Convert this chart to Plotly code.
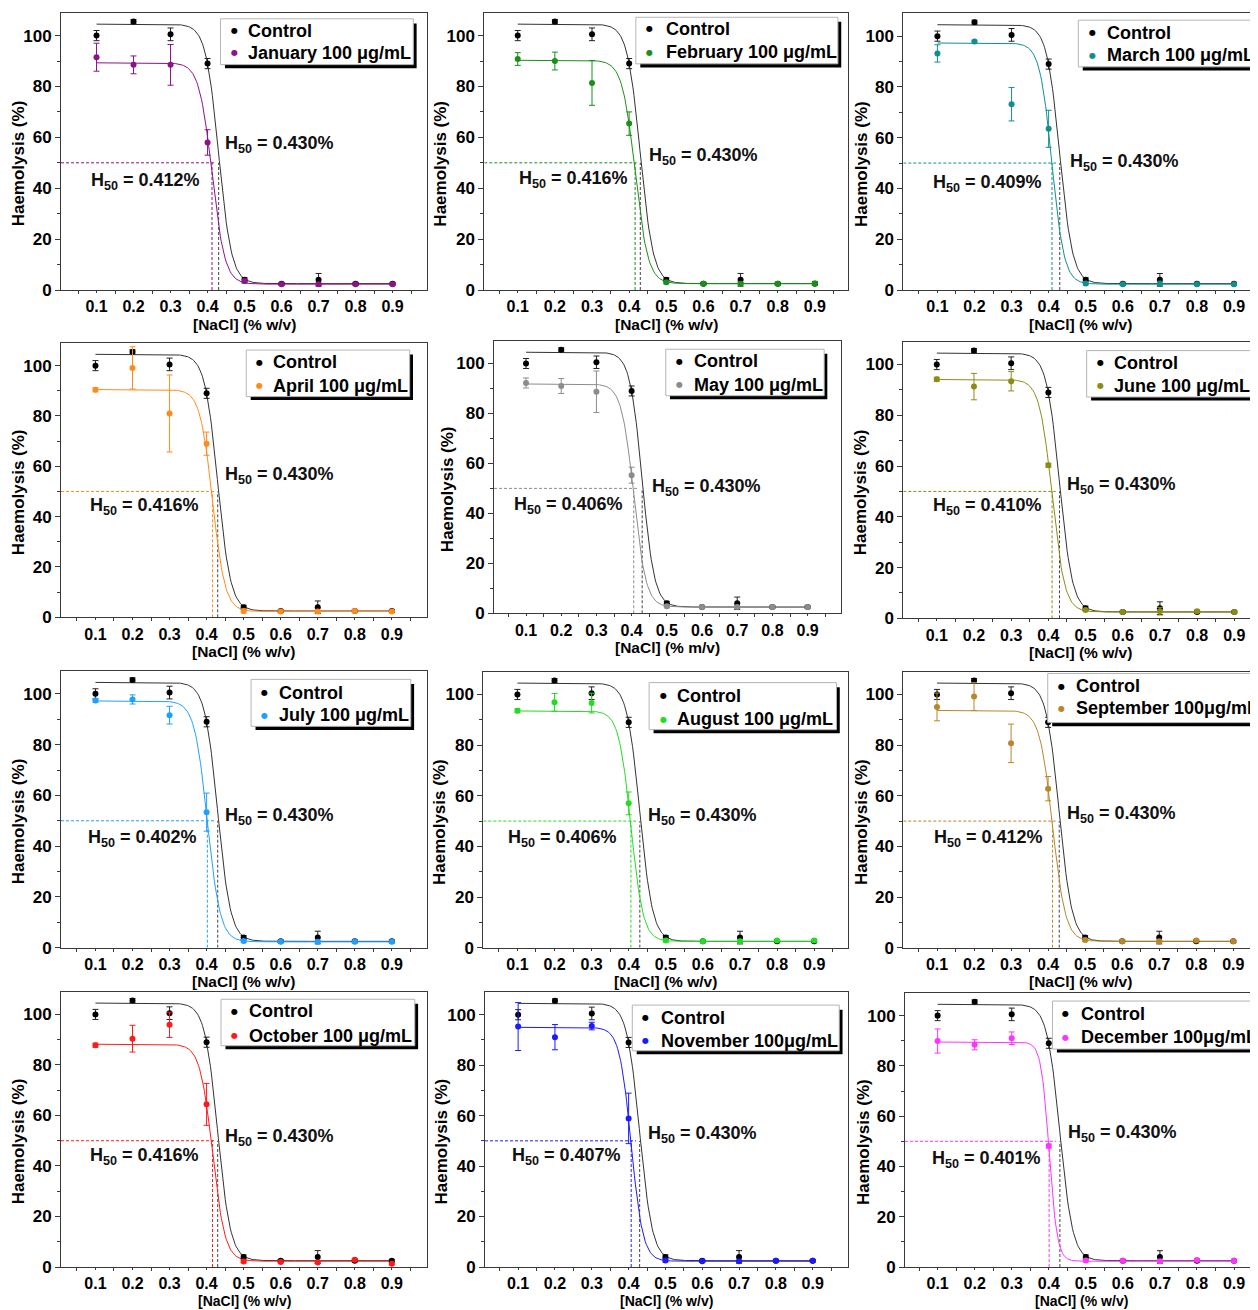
import numpy as np
import plotly.graph_objects as go
from plotly.subplots import make_subplots

# ---------------- data ----------------
nacl = [0.1, 0.2, 0.3, 0.4, 0.5, 0.6, 0.7, 0.8, 0.9]
tick_vals = [0.1, 0.2, 0.3, 0.4, 0.5, 0.6, 0.7, 0.8, 0.9]

control_y = [100.0, 105.5, 100.5, 89.0, 4.0, 2.5, 4.0, 2.5, 2.5]
control_err = [2.0, 0.8, 2.5, 2.0, 0.8, 0.5, 2.5, 0.5, 0.5]
control_top, control_bottom, control_h50, control_slope = 104.5, 2.5, 0.430, 0.0175

months = ["January", "February", "March", "April", "May", "June",
          "July", "August", "September", "October", "November", "December"]
month_labels = ["January 100 μg/mL", "February 100 μg/mL", "March 100 μg/mL",
                "April 100 μg/mL", "May 100 μg/mL", "June 100 μg/mL",
                "July 100 μg/mL", "August 100 μg/mL", "September 100μg/mL",
                "October 100 μg/mL", "November 100μg/mL", "December 100μg/mL"]
month_colors = ["#8b138b", "#1a8f1a", "#0f8f8f", "#ff8c1a", "#8c8c8c", "#8c8c14",
                "#1fa0ff", "#22dd22", "#b8862b", "#ff1a1a", "#1a1aff", "#ff33ff"]

jan_y = [91.5, 88.5, 88.5, 58.0, 3.5, 2.3, 2.3, 2.3, 2.3]
jan_err = [5.5, 3.5, 8.0, 5.0, 0.8, 0.5, 0.5, 0.5, 0.5]
feb_y = [90.8, 90.0, 81.4, 65.4, 3.0, 2.5, 2.5, 2.5, 2.6]
feb_err = [2.5, 3.5, 8.8, 4.6, 0.6, 0.5, 0.5, 0.5, 0.8]
mar_y = [93.2, 97.9, 73.2, 63.5, 2.6, 2.3, 2.6, 2.3, 2.3]
mar_err = [3.4, 0.5, 6.6, 7.3, 0.6, 0.4, 0.8, 0.4, 0.4]
apr_y = [90.4, 99.1, 81.0, 69.0, 2.5, 2.3, 2.3, 2.5, 2.3]
apr_err = [0.8, 8.4, 15.3, 4.6, 0.8, 0.5, 0.5, 0.5, 0.5]
may_y = [92.2, 91.0, 88.7, 55.3, 2.8, 2.5, 2.5, 2.5, 2.5]
may_err = [2.0, 3.0, 8.3, 3.2, 0.6, 0.4, 0.6, 0.4, 0.4]
jun_y = [94.2, 91.3, 93.4, 60.3, 3.3, 2.5, 2.8, 2.8, 2.5]
jun_err = [0.8, 5.2, 3.8, 0.8, 0.5, 0.4, 1.5, 0.5, 0.4]
jul_y = [97.4, 97.8, 91.6, 53.4, 2.6, 2.3, 2.3, 2.3, 2.3]
jul_err = [0.8, 1.8, 3.5, 7.5, 0.6, 0.4, 0.4, 0.4, 0.4]
aug_y = [93.6, 96.9, 96.6, 57.0, 2.8, 2.5, 2.5, 2.8, 2.8]
aug_err = [0.8, 3.5, 3.9, 4.5, 0.6, 0.4, 0.4, 0.5, 0.5]
sep_y = [95.1, 99.2, 80.7, 62.8, 3.0, 2.5, 2.5, 2.8, 2.5]
sep_err = [5.5, 5.5, 7.6, 4.8, 0.6, 0.4, 0.4, 0.5, 0.4]
oct_y = [87.8, 90.4, 95.9, 64.4, 2.2, 2.0, 1.8, 2.9, 1.3]
oct_err = [0.8, 5.3, 5.0, 8.3, 0.5, 0.4, 0.4, 0.5, 0.4]
nov_y = [95.3, 91.1, 95.5, 58.9, 2.6, 2.3, 2.3, 2.5, 2.5]
nov_err = [9.5, 5.0, 1.5, 10.0, 0.6, 0.4, 0.4, 0.4, 0.4]
dec_y = [89.9, 88.4, 91.0, 48.1, 2.6, 2.5, 2.3, 2.8, 2.5]
dec_err = [4.8, 2.0, 2.5, 0.8, 0.5, 0.4, 0.4, 0.5, 0.4]

month_ys = [jan_y, feb_y, mar_y, apr_y, may_y, jun_y, jul_y, aug_y, sep_y, oct_y, nov_y, dec_y]
month_errs = [jan_err, feb_err, mar_err, apr_err, may_err, jun_err,
              jul_err, aug_err, sep_err, oct_err, nov_err, dec_err]

# Boltzmann fit parameters (top, bottom, H50, slope)
fit_tops = [89.3, 90.3, 97.3, 90.5, 91.8, 94.1, 97.2, 93.5, 93.7, 88.2, 95.0, 89.5]
fit_bottoms = [2.3, 2.5, 2.3, 2.3, 2.5, 2.5, 2.3, 2.5, 2.5, 2.3, 2.3, 2.3]
h50s = [0.412, 0.416, 0.409, 0.416, 0.406, 0.410, 0.402, 0.406, 0.412, 0.416, 0.407, 0.401]
fit_slopes = [0.0175, 0.0175, 0.0165, 0.0170, 0.0175, 0.0170,
              0.0175, 0.0165, 0.0175, 0.0170, 0.0160, 0.0110]

x_titles = ["[NaCl] (% w/v)"] * 12
x_titles[4] = "[NaCl] (% m/v)"
y_title = "Haemolysis (%)"

# ---------------- layout constants (pixels / positions) ----------------
PAGE_OFF = 8                     # default body margin of the html page
W, H = 1258 - PAGE_OFF, 1310 - PAGE_OFF
panel_px = [  # left, right, top, bottom  (window pixels)
    (61, 427, 12.7, 290), (484.3, 848.3, 12.7, 290), (903.3, 1257, 13.3, 290),
    (61, 426.7, 343, 617.3), (494, 840.7, 341, 613.3), (903.3, 1257, 341.7, 618.3),
    (61, 426.7, 671, 947.7), (483.3, 848.3, 671.7, 947.7), (903.3, 1257, 671.7, 947.7),
    (61, 427, 991.7, 1267), (485, 847.7, 992, 1267), (905, 1257, 993, 1267),
]
x_ranges = [
    (0.004, 0.993), (0.010, 0.990), (0.008, 0.962),
    (0.007, 0.994), (0.009, 0.994), (0.010, 0.961),
    (0.007, 0.994), (0.008, 0.992), (0.009, 0.964),
    (0.007, 0.995), (0.010, 0.995), (0.012, 0.962),
]
y_range = (0, 109)
y_title_shift = [-43, -44, -42, -43, -47, -43, -43, -44, -42, -43, -44, -42]
x_title_shift = [-34] * 12
x_title_size = [15.5] * 9 + [14, 14, 14]
# H50 label positions: control label (left x, y), month label (right x, y)
ctrl_lab = [(0.443, 57.0), (0.447, 52.4), (0.452, 50.4), (0.443, 56.4), (0.451, 50.5), (0.445, 52.4),
            (0.443, 51.7), (0.447, 52.0), (0.445, 52.6), (0.443, 51.2), (0.447, 52.4), (0.447, 53.0)]
month_lab = [(0.385, 42.5), (0.403, 43.3), (0.388, 42.0), (0.386, 43.9), (0.380, 43.2), (0.389, 43.9),
             (0.379, 43.2), (0.375, 43.3), (0.392, 43.2), (0.386, 43.6), (0.385, 43.8), (0.385, 42.7)]
# legend box: x0, x1, y_bottom, y_top, bullet x, text x, row1 y, row2 y
legend_box = [
    (0.435, 0.956, 88.6, 106.6, 0.474, 0.505, 102.0, 93.2),
    (0.418, 0.962, 88.9, 107.2, 0.456, 0.495, 102.6, 93.5),
    (0.480, 0.958, 87.9, 106.3, 0.518, 0.552, 101.3, 92.5),
    (0.507, 0.948, 87.7, 106.2, 0.543, 0.575, 101.3, 92.0),
    (0.497, 0.947, 87.1, 105.7, 0.536, 0.571, 100.8, 91.5),
    (0.503, 0.951, 87.2, 105.5, 0.539, 0.572, 100.7, 91.7),
    (0.520, 0.951, 87.2, 105.7, 0.556, 0.589, 100.4, 91.6),
    (0.455, 0.960, 86.1, 104.7, 0.493, 0.526, 99.5, 90.3),
    (0.399, 1.050, 88.9, 108.3, 0.437, 0.471, 103.3, 94.5),
    (0.439, 0.962, 87.6, 106.0, 0.475, 0.509, 101.2, 91.6),
    (0.410, 0.972, 85.7, 103.8, 0.446, 0.482, 98.8, 89.7),
    (0.410, 1.050, 86.7, 105.8, 0.444, 0.481, 100.8, 91.3),
]

FONT = "Liberation Sans, Arial, sans-serif"
AX = "#3a3a3a"
DASH = "3px,2px"

fig = make_subplots(rows=4, cols=3)

x_fit = np.linspace(0.1, 0.9, 300)


def boltzmann(x, top, bottom, x0, dx):
    return bottom + (top - bottom) / (1.0 + np.exp((x - x0) / dx))


ctrl_fit = boltzmann(x_fit, control_top, control_bottom, control_h50, control_slope)

shapes = []
annotations = []

for i in range(12):
    r, c = i // 3 + 1, i % 3 + 1
    col = month_colors[i]
    m_fit = boltzmann(x_fit, fit_tops[i], fit_bottoms[i], h50s[i], fit_slopes[i])

    fig.add_trace(go.Scatter(x=x_fit, y=ctrl_fit, mode="lines",
                             line=dict(color="#333333", width=1), showlegend=False,
                             hoverinfo="skip"), row=r, col=c)
    fig.add_trace(go.Scatter(x=x_fit, y=m_fit, mode="lines",
                             line=dict(color=col, width=1), showlegend=False,
                             hoverinfo="skip"), row=r, col=c)
    fig.add_trace(go.Scatter(x=nacl, y=control_y, mode="markers", name="Control",
                             marker=dict(color="black", size=6),
                             error_y=dict(type="data", array=control_err, color="#222",
                                          thickness=1, width=3),
                             showlegend=False), row=r, col=c)
    fig.add_trace(go.Scatter(x=nacl, y=month_ys[i], mode="markers", name=month_labels[i],
                             marker=dict(color=col, size=6),
                             error_y=dict(type="data", array=month_errs[i], color=col,
                                          thickness=1, width=3),
                             showlegend=False), row=r, col=c)

    ax = "" if i == 0 else str(i + 1)
    xr, yr = "x" + ax, "y" + ax
    L, R, T, B = [v - PAGE_OFF for v in panel_px[i]]

    fig.update_layout(**{
        "xaxis" + ax: dict(
            domain=[max(L, 0) / W, min(R, W) / W], range=list(x_ranges[i]), automargin=False,
            tickvals=tick_vals, ticktext=[f"{v:.1f}" for v in tick_vals],
            ticks="outside", ticklen=2, tickwidth=1, tickcolor=AX,
            minor=dict(ticks="outside", ticklen=3, tickcolor=AX, tick0=0.05, dtick=0.1),
            showline=True, linecolor=AX, linewidth=1, mirror=True,
            showgrid=False, zeroline=False,
            tickfont=dict(family=FONT, size=16, color="black", weight="bold"),
        ),
        "yaxis" + ax: dict(
            domain=[1 - B / H, 1 - T / H], range=list(y_range), automargin=False,
            tick0=0, dtick=20,
            ticks="outside", ticklen=5, tickwidth=1, tickcolor=AX,
            minor=dict(ticks="outside", ticklen=3, tickcolor=AX, tick0=10, dtick=20),
            showline=True, linecolor=AX, linewidth=1, mirror=True,
            showgrid=False, zeroline=False,
            tickfont=dict(family=FONT, size=17, color="black", weight="bold"),
        ),
    })

    # axis titles
    annotations.append(dict(xref=xr + " domain", yref=yr + " domain", x=0.5, y=0,
                            xanchor="center", yanchor="middle", yshift=x_title_shift[i],
                            text=x_titles[i], showarrow=False,
                            font=dict(family=FONT, size=x_title_size[i], color="black", weight="bold")))
    annotations.append(dict(xref=xr + " domain", yref=yr + " domain", x=0, y=0.5,
                            xanchor="center", yanchor="middle", xshift=y_title_shift[i],
                            yshift=-12, textangle=-90,
                            text=y_title, showarrow=False,
                            font=dict(family=FONT, size=17, color="black", weight="bold")))

    # H50 guide lines
    shapes.append(dict(type="line", xref=xr, yref=yr, x0=x_ranges[i][0], x1=0.42, y0=50, y1=50,
                       line=dict(color=col, width=1, dash=DASH), layer="below"))
    shapes.append(dict(type="line", xref=xr, yref=yr, x0=h50s[i], x1=h50s[i], y0=0, y1=50,
                       line=dict(color=col, width=1, dash=DASH), layer="below"))
    shapes.append(dict(type="line", xref=xr, yref=yr, x0=control_h50, x1=control_h50, y0=0, y1=50,
                       line=dict(color="#444444", width=1, dash=DASH), layer="below"))

    # H50 labels
    cx, cy = ctrl_lab[i]
    annotations.append(dict(xref=xr, yref=yr, x=cx, y=cy, xanchor="left", yanchor="middle",
                            text=f"H<sub>50</sub> = {control_h50:.3f}%", showarrow=False,
                            font=dict(family=FONT, size=18, color="#111", weight="bold")))
    mx, my = month_lab[i]
    annotations.append(dict(xref=xr, yref=yr, x=mx, y=my, xanchor="right", yanchor="middle",
                            text=f"H<sub>50</sub> = {h50s[i]:.3f}%", showarrow=False,
                            font=dict(family=FONT, size=18, color="#111", weight="bold")))

    # legend box with shadow
    bx0, bx1, by0, by1, bulx, tx, ry1, ry2 = legend_box[i]
    shapes.append(dict(type="rect", xref=xr, yref=yr, x0=bx0 + 0.012, x1=bx1 + 0.009,
                       y0=by0 - 1.4, y1=by1 - 1.8, fillcolor="black",
                       line=dict(color="black", width=0), layer="above"))
    shapes.append(dict(type="rect", xref=xr, yref=yr, x0=bx0, x1=bx1, y0=by0, y1=by1,
                       fillcolor="white", line=dict(color="#b5b5b5", width=1), layer="above"))
    for ry, name, mc in ((ry1, "Control", "black"), (ry2, month_labels[i], col)):
        annotations.append(dict(xref=xr, yref=yr, x=bulx, y=ry, xanchor="center", yanchor="middle",
                                text="●", showarrow=False,
                                font=dict(family="DejaVu Sans", size=8, color=mc)))
        annotations.append(dict(xref=xr, yref=yr, x=tx, y=ry, xanchor="left", yanchor="middle",
                                text=name, showarrow=False,
                                font=dict(family=FONT, size=18, color="black", weight="bold")))

fig.update_layout(
    width=W, height=H,
    margin=dict(l=0, r=0, t=0, b=0, autoexpand=False),
    paper_bgcolor="white", plot_bgcolor="white",
    font=dict(family=FONT, color="black", weight="bold"),
    shapes=shapes, annotations=annotations,
    showlegend=False,
)

fig.write_html("out.html")
